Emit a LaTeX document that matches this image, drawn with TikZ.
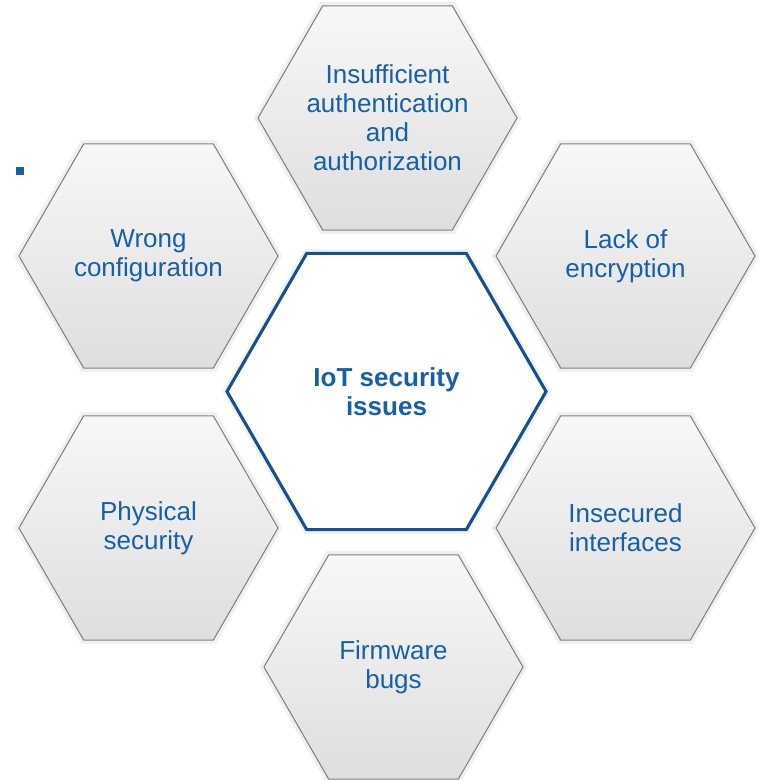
\documentclass[tikz,border=0pt]{standalone}
\usepackage{fontspec}
\setmainfont{Liberation Sans}
\usetikzlibrary{shapes.geometric,shadows}
\definecolor{issueblue}{HTML}{1560A8}
\definecolor{hubblue}{HTML}{17508F}
\definecolor{hexedge}{HTML}{808080}

\begin{document}
\begin{tikzpicture}[
    x=0.025cm, y=-0.025cm,
    font=\fontsize{18.5}{20.6}\selectfont,
    hex/.style={regular polygon, regular polygon sides=6, inner sep=0pt,
                minimum size=6.475cm, draw=hexedge, line width=0.75pt,
                top color=white!97!black, bottom color=white!87!black,
                text=issueblue, align=center,
                general shadow={shadow scale=1.035, fill=black, opacity=0.06}},
    hub/.style={regular polygon, regular polygon sides=6, inner sep=0pt,
                minimum size=7.975cm, draw=hubblue, line width=2.2pt,
                fill=white, text=issueblue, align=center,
                font=\fontsize{18.5}{20.6}\selectfont\bfseries,
                general shadow={shadow scale=1.03, fill=black, opacity=0.05}},
    bullet/.style={fill=issueblue, inner sep=0pt, minimum size=0.2cm}
]
  \useasboundingbox (0,0) rectangle (759,780);

  \node[hex, inner sep=-3pt] (auth) at (387.5,118) {Insufficient\\authentication\\and\\authorization};
  \node[hex] (config)   at (148.5,256) {Wrong\\configuration};
  \node[hex] (crypt)    at (625.5,256) {Lack of\\encryption};
  \node[hex] (physical) at (148.5,528) {Physical\\security};
  \node[hex] (iface)    at (625.5,528) {Insecured\\interfaces};
  \node[hex] (firmware) at (393.5,667) {Firmware\\bugs};
  \node[hub] (iot)      at (386.5,391.5) {IoT security\\issues};

  \node[bullet] (dot) at (20,171) {};
\end{tikzpicture}
\end{document}
